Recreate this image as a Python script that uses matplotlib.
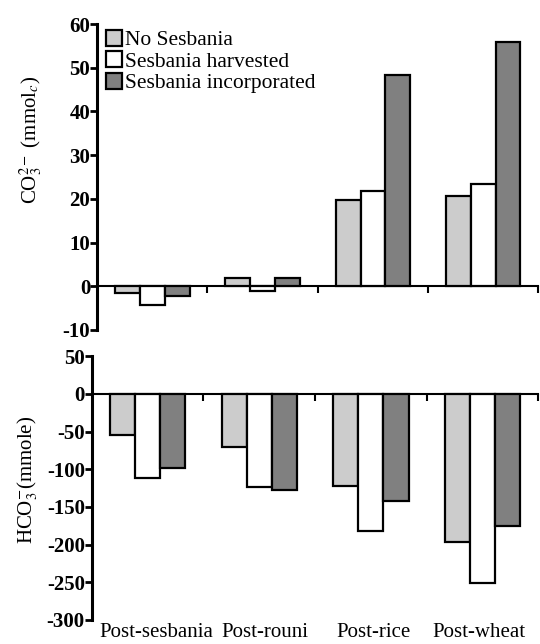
import matplotlib
matplotlib.use("Agg")
import matplotlib.pyplot as plt
import matplotlib.transforms as mtransforms
import numpy as np

plt.rcParams["font.family"] = ["Liberation Serif", "DejaVu Serif"]
plt.rcParams["mathtext.fontset"] = "stix"
plt.rcParams["axes.unicode_minus"] = False

stages = ["Post-sesbania", "Post-rouni", "Post-rice", "Post-wheat"]
treatments = ["No Sesbania", "Sesbania harvested", "Sesbania incorporated"]
colors = ["#cccccc", "#ffffff", "#808080"]

co3_no = [-1.6, 2.0, 19.8, 20.7]
co3_harv = [-4.3, -1.1, 21.8, 23.4]
co3_inc = [-2.2, 2.0, 48.4, 56.0]

hco3_no = [-55, -70, -122, -196]
hco3_harv = [-112, -123, -182, -251]
hco3_inc = [-98, -128, -142, -175]

fig = plt.figure(figsize=(5.4, 6.44), dpi=100)
ax1 = fig.add_axes([0.180, 0.4876, 0.817, 0.475])
ax2 = fig.add_axes([0.170, 0.0373, 0.827, 0.4097])

x = np.arange(len(stages))
w = 0.225


def style(ax, ylim, yticks):
    ax.set_xlim(-0.5, 3.5)
    ax.set_ylim(*ylim)
    ax.set_yticks(yticks)
    ax.spines["top"].set_visible(False)
    ax.spines["right"].set_visible(False)
    ax.spines["bottom"].set_position(("data", 0))
    ax.spines["left"].set_linewidth(2.2)
    ax.spines["bottom"].set_linewidth(1.5)
    ax.set_xticks([0.5, 1.5, 2.5, 3.5])
    ax.set_xticklabels([])
    ax.tick_params(axis="x", direction="out", length=5, width=1.5)
    ax.tick_params(axis="y", direction="out", length=5, width=2.0,
                   labelsize=15, pad=0)
    for lab in ax.get_yticklabels():
        lab.set_fontweight("bold")


series1 = [co3_no, co3_harv, co3_inc]
series2 = [hco3_no, hco3_harv, hco3_inc]
for i in range(3):
    ax1.bar(x + (i - 1) * w, series1[i], w, color=colors[i], edgecolor="black",
            linewidth=1.6, label=treatments[i], zorder=3)
    ax2.bar(x + (i - 1) * w, series2[i], w, color=colors[i], edgecolor="black",
            linewidth=1.6, zorder=3)

style(ax1, (-10, 60), [-10, 0, 10, 20, 30, 40, 50, 60])
style(ax2, (-300, 50), [-300, -250, -200, -150, -100, -50, 0, 50])

ax1.set_ylabel(r"CO$_3^{2-}$ (mmol$_c$)", fontsize=15)
ax1.yaxis.set_label_coords(-0.12, 0.62)
ax2.set_ylabel(r"HCO$_3^{-}$(mmole)", fontsize=15)
ax2.yaxis.set_label_coords(-0.115, 0.53)

ax1.legend(loc="upper left", bbox_to_anchor=(-0.015, 1.03), frameon=False,
           fontsize=15.5, handlelength=0.75, handleheight=0.75,
           handletextpad=0.15, labelspacing=0.05, borderaxespad=0.3)

# category names sit slightly off the group centres in the original
label_shift = [0.08, 0.05, 0.02, -0.03]
trans = mtransforms.blended_transform_factory(ax2.transData, ax2.transAxes)
for i, name in enumerate(stages):
    ax2.text(i + label_shift[i], -0.012, name, transform=trans, ha="center",
             va="top", fontsize=15)

fig.savefig("out.png", dpi=100)
